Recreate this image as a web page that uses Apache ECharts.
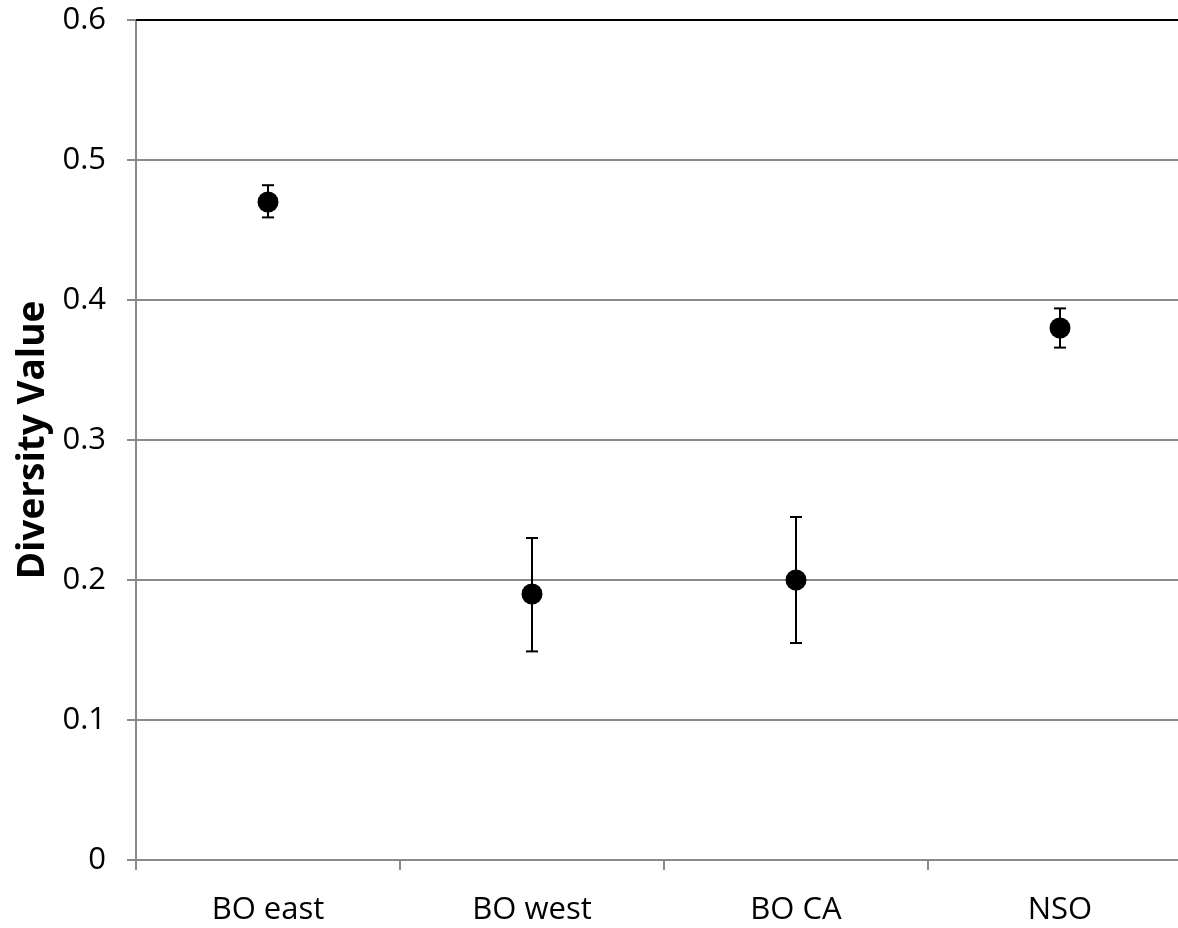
<!DOCTYPE html>
<html>
<head>
<meta charset="utf-8">
<script src="https://cdn.jsdelivr.net/npm/echarts@6/dist/echarts.min.js"></script>
<style>
  html, body { margin: 0; padding: 0; background: #fff; overflow: hidden; }
  /* the plot runs a little past the right edge of the window */
  #chart { width: 1192px; height: 928px; }
</style>
</head>
<body>
<div id="chart"></div>
<script>
// Diversity value per population, with upper/lower error bounds
const categories = ['BO east', 'BO west', 'BO CA', 'NSO'];
const meanValues = [0.47, 0.19, 0.20, 0.38];
const upperValues = [0.482, 0.23, 0.245, 0.394];
const lowerValues = [0.459, 0.149, 0.155, 0.366];
const yTicks = [0, 0.1, 0.2, 0.3, 0.4, 0.5, 0.6];

const FONT = '"Open Sans", "Noto Sans", sans-serif';
const GRID_GRAY = '#8a8a8a';

const errorData = categories.map((c, i) => [i, lowerValues[i], upperValues[i]]);

const chart = echarts.init(document.getElementById('chart'), null, { renderer: 'canvas' });

chart.setOption({
  animation: false,
  backgroundColor: '#fff',
  grid: { left: 136, top: 20, right: 0, bottom: 68, containLabel: false },
  xAxis: [{
    type: 'category',
    data: categories,
    boundaryGap: true,
    axisLine: { show: true, lineStyle: { color: GRID_GRAY, width: 2 } },
    axisTick: { show: true, length: 10, inside: false, lineStyle: { color: GRID_GRAY, width: 2 } },
    axisLabel: { color: '#000', fontFamily: FONT, fontSize: 31, margin: 35 },
    splitLine: { show: false }
  }, {
    // black rule along the top edge of the plot
    type: 'category',
    position: 'top',
    data: categories,
    axisLine: { show: true, lineStyle: { color: '#000', width: 2 } },
    axisTick: { show: false },
    axisLabel: { show: false },
    splitLine: { show: false }
  }],
  yAxis: {
    type: 'value',
    min: yTicks[0],
    max: yTicks[yTicks.length - 1],
    interval: 0.1,
    name: 'Diversity Value',
    nameLocation: 'middle',
    nameGap: 81,
    nameTextStyle: { color: '#000', fontFamily: FONT, fontWeight: 'bold', fontSize: 37 },
    axisLine: { show: true, lineStyle: { color: GRID_GRAY, width: 2 } },
    axisTick: { show: true, length: 9, lineStyle: { color: GRID_GRAY, width: 2 } },
    axisLabel: {
      color: '#000', fontFamily: FONT, fontSize: 31, margin: 30,
      formatter: v => (v === 0 ? '0' : v.toFixed(1))
    },
    splitLine: { show: true, lineStyle: { color: GRID_GRAY, width: 2 } }
  },
  series: [{
    type: 'custom',
    name: 'error',
    data: errorData,
    z: 3,
    renderItem: (params, api) => {
      const x = api.value(0);
      const lo = api.coord([x, api.value(1)]);
      const hi = api.coord([x, api.value(2)]);
      const cap = 6;
      const style = { stroke: '#000', lineWidth: 2 };
      return {
        type: 'group',
        children: [
          { type: 'line', shape: { x1: hi[0], y1: hi[1], x2: lo[0], y2: lo[1] }, style },
          { type: 'line', shape: { x1: hi[0] - cap, y1: hi[1], x2: hi[0] + cap, y2: hi[1] }, style },
          { type: 'line', shape: { x1: lo[0] - cap, y1: lo[1], x2: lo[0] + cap, y2: lo[1] }, style }
        ]
      };
    }
  }, {
    type: 'scatter',
    name: 'mean',
    data: meanValues,
    symbol: 'circle',
    symbolSize: 21,
    z: 4,
    itemStyle: { color: '#000', opacity: 1 }
  }]
});
</script>
</body>
</html>
